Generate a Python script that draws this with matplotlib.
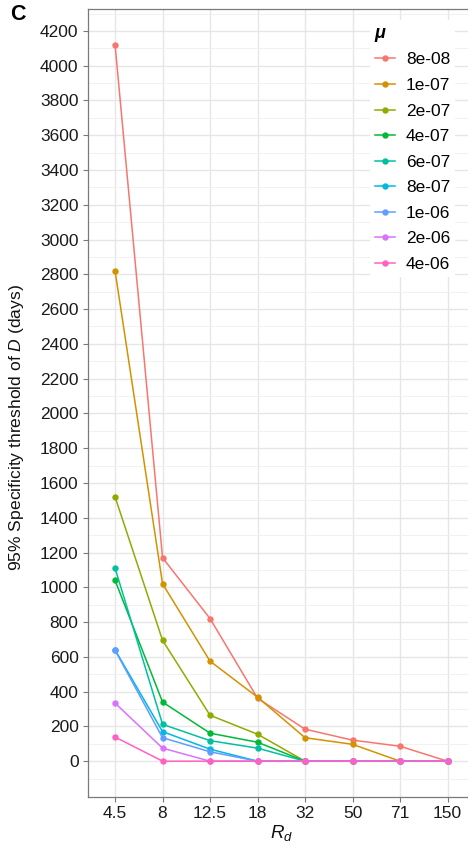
import matplotlib
matplotlib.use("Agg")
import matplotlib.pyplot as plt
import numpy as np

plt.rcParams['font.family'] = ['Liberation Sans', 'DejaVu Sans']
plt.rcParams['mathtext.fontset'] = 'custom'
plt.rcParams['mathtext.it'] = 'Liberation Sans:italic'
plt.rcParams['mathtext.rm'] = 'Liberation Sans'

rd_labels = ["4.5", "8", "12.5", "18", "32", "50", "71", "150"]
mu_labels = ["8e-08", "1e-07", "2e-07", "4e-07", "6e-07", "8e-07", "1e-06", "2e-06", "4e-06"]
colors = ["#F8766D", "#D39200", "#93AA00", "#00BA38", "#00C19F",
          "#00B9E3", "#619CFF", "#DB72FB", "#FF61C3"]

thr_8e08 = [4120, 1170, 820, 362, 184, 121, 86, 0]
thr_1e07 = [2820, 1020, 575, 368, 135, 97, 0, 0]
thr_2e07 = [1520, 695, 264, 155, 0, 0, 0, 0]
thr_4e07 = [1040, 340, 161, 109, 0, 0, 0, 0]
thr_6e07 = [1110, 212, 118, 75, 0, 0, 0, 0]
thr_8e07 = [640, 170, 69, 0, 0, 0, 0, 0]
thr_1e06 = [638, 135, 54, 0, 0, 0, 0, 0]
thr_2e06 = [334, 75, 0, 0, 0, 0, 0, 0]
thr_4e06 = [139, 0, 0, 0, 0, 0, 0, 0]
series = [thr_8e08, thr_1e07, thr_2e07, thr_4e07, thr_6e07,
          thr_8e07, thr_1e06, thr_2e06, thr_4e06]

W, H = 468, 843
fig = plt.figure(figsize=(W / 100, H / 100), dpi=100)
ax = fig.add_axes([88 / W, 1 - 797 / H, (476 - 88) / W, (797 - 9) / H])

x = np.arange(1, len(rd_labels) + 1)
for vals, lab, col in zip(series, mu_labels, colors):
    ax.plot(x, vals, color=col, lw=1.1, marker='o', ms=4.6,
            markeredgewidth=0, label=lab, zorder=3)

ax.set_xlim(0.43, 8.6)
ax.set_ylim(-206, 4326)
ax.set_xticks(x)
ax.set_xticklabels(rd_labels)
ax.set_yticks(np.arange(0, 4201, 200))
ax.set_yticks(np.arange(-100, 4301, 200), minor=True)
ax.set_xticks([], minor=True)

ax.grid(which='major', color='#E6E6E6', lw=1.0, zorder=0)
ax.grid(which='minor', axis='y', color='#EFEFEF', lw=0.6, zorder=0)
ax.set_axisbelow(True)

for side in ['left', 'bottom', 'top', 'right']:
    ax.spines[side].set_color('#7A7A7A')
    ax.spines[side].set_linewidth(0.9)

ax.tick_params(axis='both', which='major', labelsize=12.5, colors='#7A7A7A',
               labelcolor='#1A1A1A', length=3.6, width=0.8, pad=3.2)
ax.tick_params(axis='y', which='minor', length=0)

ax.set_ylabel(r"95% Specificity threshold of $D$ (days)", fontsize=12.6,
              color='#111111')
ax.yaxis.set_label_coords((26 - 88) / 388, (797 - 428) / 788)
ax.set_xlabel(r"$R_d$", fontsize=13.5, color='#111111', labelpad=1)

leg = ax.legend(loc='upper left', bbox_to_anchor=(361 / W, 1 - 11 / H),
                bbox_transform=fig.transFigure, frameon=True, fancybox=False,
                edgecolor='none', facecolor='white', framealpha=1,
                fontsize=12.5, handlelength=1.15, handletextpad=0.63,
                labelspacing=0.6, borderpad=0.3, title="μ",
                alignment='left')
leg.get_title().set_fontsize(13)
leg.get_title().set_fontweight('bold')
leg.get_title().set_fontstyle('italic')

fig.text(10 / W, 1 - 4 / H, "C", fontsize=15.5, fontweight='bold', va='top')

fig.savefig("out.png", dpi=100)
